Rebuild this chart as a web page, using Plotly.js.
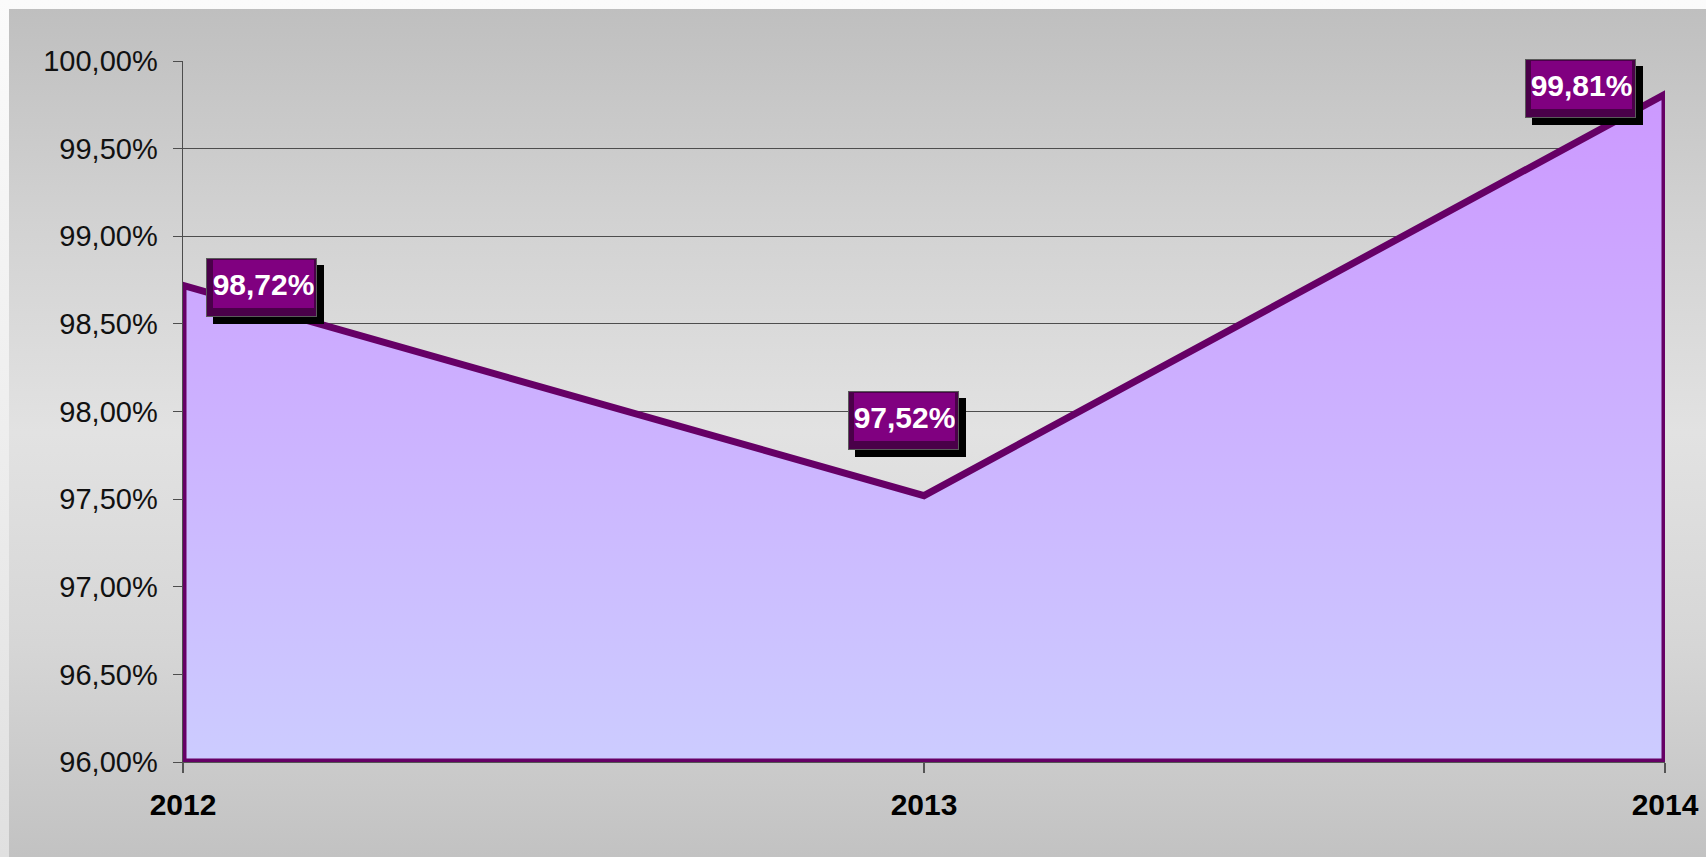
<!DOCTYPE html>
<html>
<head>
<meta charset="utf-8">
<script src="https://cdn.plot.ly/plotly-3.0.1.min.js"></script>
<style>
  html, body { margin: 0; padding: 0; width: 1706px; height: 857px; overflow: hidden;
    background: linear-gradient(to bottom, #fbfbfb 0%, #eeeeee 50%, #e0e0e0 100%); }
  #frame { position: absolute; left: 9px; top: 9px; right: 0; bottom: 0;
    background: linear-gradient(to bottom, #bfbfbf 0%, #d2d2d2 25%, #e2e2e2 50%, #d6d6d6 75%, #c2c2c2 100%); }
  #chart { position: absolute; left: 0; top: 0; width: 1706px; height: 857px; }
</style>
</head>
<body>
<div id="frame"></div>
<div id="chart"></div>
<script>
// ---- data ----
const years = [2012, 2013, 2014];
const values = [98.72, 97.52, 99.81];
const valueLabels = ['98,72%', '97,52%', '99,81%'];
const yTickVals = [96, 96.5, 97, 97.5, 98, 98.5, 99, 99.5, 100];
const yTickLabels = ['96,00%', '96,50%', '97,00%', '97,50%', '98,00%', '98,50%', '99,00%', '99,50%', '100,00%'];
const xTickLabels = ['2012', '2013', '2014'];

// ---- layout helpers ----
const yRange = [96, 100];
const labelOffsets = [[78.7, -2.5], [-20.5, 75.1], [-84.5, 6.1]]; // pixel offset of label box from point

// closed outline of the area: baseline -> values -> baseline -> back to start
const polyX = [years[0]].concat(years, [years[years.length - 1], years[0]]);
const polyY = [yRange[0]].concat(values, [yRange[0], yRange[0]]);

const area = {
  type: 'scatter',
  mode: 'lines',
  x: polyX,
  y: polyY,
  fill: 'toself',
  fillcolor: '#cbb3ff',
  fillgradient: {
    type: 'vertical',
    colorscale: [[0, '#ccccff'], [1, '#cc99ff']],
    start: yRange[0],
    stop: Math.max.apply(null, values)
  },
  line: { color: '#660066', width: 7, shape: 'linear' },
  hoverinfo: 'skip',
  showlegend: false
};

const annotations = [];
years.forEach(function (yr, i) {
  const dx = labelOffsets[i][0], dy = labelOffsets[i][1];
  const base = { x: yr, y: values[i], xref: 'x', yref: 'y', showarrow: false,
                 xanchor: 'center', yanchor: 'middle', borderpad: 0 };
  // shadow
  annotations.push(Object.assign({}, base, { text: ' ', width: 111, height: 59,
    bgcolor: '#000000', borderwidth: 0, xshift: dx + 7, yshift: dy - 7 }));
  // outer (dark bevel)
  annotations.push(Object.assign({}, base, { text: ' ', width: 109, height: 57,
    bgcolor: '#4a0049', bordercolor: '#5a5a5a', borderwidth: 1, xshift: dx, yshift: dy }));
  // inner with text
  annotations.push(Object.assign({}, base, { text: valueLabels[i], width: 101, height: 48,
    bgcolor: '#800080', borderwidth: 0, xshift: dx + 1.3, yshift: dy + 3.7,
    font: { family: 'Liberation Sans, Arial, sans-serif', size: 30, color: '#ffffff', weight: 'bold' } }));
});

const layout = {
  width: 1706,
  height: 857,
  margin: { l: 183, r: 41, t: 61, b: 95, pad: 0 },
  paper_bgcolor: 'rgba(0,0,0,0)',
  plot_bgcolor: 'rgba(0,0,0,0)',
  showlegend: false,
  xaxis: {
    range: [years[0], years[years.length - 1]],
    tickmode: 'array',
    tickvals: years,
    ticktext: xTickLabels,
    ticks: 'outside',
    ticklen: 10,
    tickcolor: '#555555',
    tickwidth: 1.5,
    showline: true,
    linecolor: '#555555',
    linewidth: 1,
    showgrid: false,
    zeroline: false,
    layer: 'below traces',
    ticklabelstandoff: 6,
    tickfont: { family: 'Liberation Sans, Arial, sans-serif', size: 30, color: '#000000', weight: 'bold' },
    fixedrange: true
  },
  yaxis: {
    range: yRange,
    tickmode: 'array',
    tickvals: yTickVals,
    ticktext: yTickLabels,
    ticks: 'outside',
    ticklen: 9,
    tickcolor: '#4d4d4d',
    tickwidth: 1,
    showline: true,
    linecolor: '#4d4d4d',
    linewidth: 1.5,
    showgrid: true,
    gridcolor: '#4d4d4d',
    gridwidth: 1,
    zeroline: false,
    layer: 'below traces',
    ticklabelstandoff: 9,
    tickfont: { family: 'Liberation Sans, Arial, sans-serif', size: 29, color: '#111111' },
    fixedrange: true
  },
  annotations: annotations
};

Plotly.newPlot('chart', [area], layout, { displayModeBar: false, staticPlot: true });
</script>
</body>
</html>
